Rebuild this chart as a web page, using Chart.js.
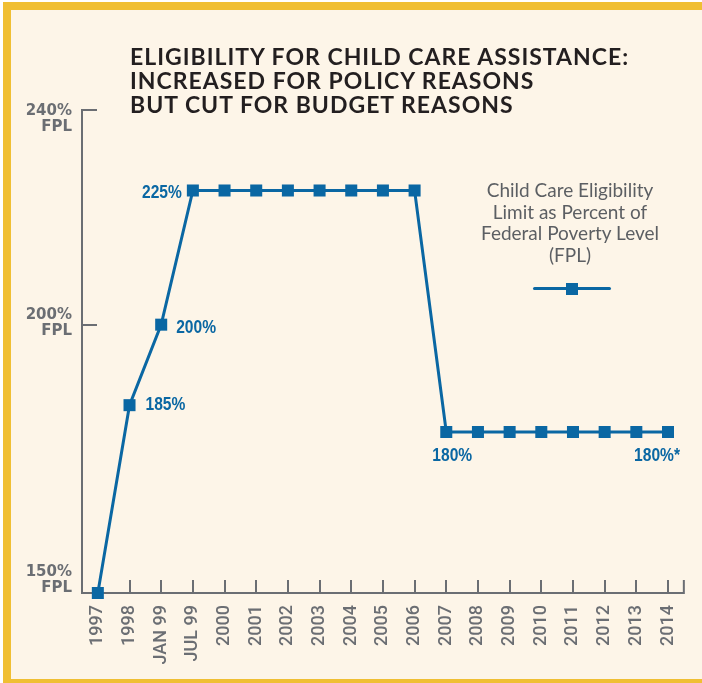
<!DOCTYPE html>
<html>
<head>
<meta charset="utf-8">
<script src="https://cdn.jsdelivr.net/npm/chart.js@4.4.1/dist/chart.umd.min.js"></script>
<style>
  html, body { margin: 0; padding: 0; background: #ffffff; overflow: hidden; }
  #wrap { position: relative; width: 702px; height: 683px; overflow: hidden; background: #fdf5e8; }
  .band { position: absolute; background: #f0bf33; }
  #bandTop { left: 3px; top: 2px; width: 699px; height: 8px; }
  #bandLeft { left: 3px; top: 2px; width: 8px; height: 681px; }
  #bandBottom { left: 3px; top: 679px; width: 699px; height: 4px; }
  #edgeTop { position: absolute; left: 0; top: 0; width: 702px; height: 2px; background: #ffffff; }
  #edgeLeft { position: absolute; left: 0; top: 0; width: 3px; height: 683px; background: #ffffff; }
  #title {
    position: absolute; left: 130px; top: 44px;
    font: 700 23px Lato, sans-serif; line-height: 24px; letter-spacing: 1px;
    color: #231f20; white-space: nowrap;
  }
  #legend {
    position: absolute; left: 470px; width: 200px; top: 179px; text-align: center;
    font: 400 19px Lato, sans-serif; line-height: 21.5px; color: #5c5f63; white-space: nowrap;
  }
  #legendLine {
    position: absolute; left: 533px; top: 287px; width: 78px; height: 3px;
    border-radius: 2px; background: #0a67a3;
  }
  #legendBox {
    position: absolute; left: 566px; top: 283px; width: 12px; height: 12px; background: #0a67a3;
  }
  #chart { position: absolute; left: 0; top: 0; }
</style>
</head>
<body>
<div id="wrap">
  <div id="edgeTop"></div>
  <div id="edgeLeft"></div>
  <div class="band" id="bandTop"></div>
  <div class="band" id="bandLeft"></div>
  <div class="band" id="bandBottom"></div>
  <canvas id="chart" width="702" height="683"></canvas>
  <div id="title">ELIGIBILITY FOR CHILD CARE ASSISTANCE:<br>INCREASED FOR POLICY REASONS<br>BUT CUT FOR BUDGET REASONS</div>
  <div id="legend">Child Care Eligibility<br>Limit as Percent of<br>Federal Poverty Level<br>(FPL)</div>
  <div id="legendLine"></div>
  <div id="legendBox"></div>
</div>
<script>
// data
const categories = ['1997', '1998', 'JAN 99', 'JUL 99', '2000', '2001', '2002', '2003', '2004',
  '2005', '2006', '2007', '2008', '2009', '2010', '2011', '2012', '2013', '2014'];
const eligibility = [150, 185, 200, 225, 225, 225, 225, 225, 225, 225, 225,
  180, 180, 180, 180, 180, 180, 180, 180];
const pointLabels = ['', '185%', '200%', '225%', '', '', '', '', '', '', '',
  '180%', '', '', '', '', '', '', '180%*'];
const yTicks = [150, 200, 240];
const yTickLabels = [['150%', 'FPL'], ['200%', 'FPL'], ['240%', 'FPL']];

const blue = '#0a67a3';
const axisGray = '#6b6e73';

// where each value label sits relative to its point
const labelPlacement = {
  1: {align: 'left', dx: 16, dy: 0},
  2: {align: 'left', dx: 15, dy: 3},
  3: {align: 'right', dx: -11, dy: 2},
  11: {align: 'center', dx: 6, dy: 24},
  18: {align: 'right', dx: 12, dy: 24}
};
// first line of each y label, relative to its tick
const yLabelShift = {150: -21, 200: -10, 240: 1};
const narrow = 0.82; // squeeze for the condensed value labels

const decorations = {
  id: 'decorations',
  beforeDatasetsDraw(chart) {
    const {ctx, chartArea, scales: {x, y}} = chart;
    ctx.save();
    ctx.strokeStyle = axisGray;
    ctx.lineWidth = 2;
    ctx.beginPath();
    for (let i = 1; i < categories.length; i++) {
      const px = Math.round(x.getPixelForValue(i));
      ctx.moveTo(px, chartArea.bottom);
      ctx.lineTo(px, chartArea.bottom - 13);
    }
    ctx.moveTo(chartArea.right, chartArea.bottom + 1);
    ctx.lineTo(chartArea.right, chartArea.bottom - 13);
    yTicks.forEach(v => {
      if (v === y.min) return;
      const py = Math.round(y.getPixelForValue(v));
      ctx.moveTo(chartArea.left - 1, py);
      ctx.lineTo(chartArea.left + 15, py);
    });
    ctx.stroke();

    ctx.fillStyle = axisGray;
    ctx.font = 'bold 15px "DejaVu Sans"';
    ctx.textAlign = 'right';
    ctx.textBaseline = 'middle';
    yTicks.forEach((v, i) => {
      const py = y.getPixelForValue(v) + yLabelShift[v];
      yTickLabels[i].forEach((line, j) => ctx.fillText(line, 72, py + j * 16));
    });
    ctx.restore();
  },
  afterDatasetsDraw(chart) {
    const {ctx} = chart;
    const meta = chart.getDatasetMeta(0);
    ctx.save();
    ctx.fillStyle = blue;
    ctx.font = 'bold 19px "Liberation Sans", Arial, sans-serif';
    ctx.textBaseline = 'middle';
    pointLabels.forEach((txt, i) => {
      if (!txt) return;
      const p = meta.data[i];
      const pl = labelPlacement[i];
      ctx.save();
      ctx.translate(p.x + pl.dx, p.y + pl.dy);
      ctx.scale(narrow, 1);
      ctx.textAlign = pl.align;
      ctx.fillText(txt, 0, 0);
      ctx.restore();
    });
    ctx.restore();
  }
};

new Chart(document.getElementById('chart'), {
  type: 'line',
  data: {
    labels: categories,
    datasets: [{
      label: 'Child Care Eligibility Limit as Percent of Federal Poverty Level (FPL)',
      data: eligibility,
      borderColor: blue,
      backgroundColor: blue,
      borderWidth: 3,
      tension: 0,
      pointStyle: 'rect',
      pointRadius: 8.5,
      pointBorderWidth: 0,
      pointBackgroundColor: blue,
      clip: false
    }]
  },
  options: {
    responsive: false,
    animation: false,
    layout: {padding: {top: 110, right: 15, left: 0, bottom: 0}},
    plugins: {
      legend: {display: false},
      tooltip: {enabled: false}
    },
    scales: {
      x: {
        type: 'category',
        offset: true,
        grid: {display: false, drawTicks: false},
        border: {display: true, color: axisGray, width: 2},
        ticks: {
          autoSkip: false,
          minRotation: 90,
          maxRotation: 90,
          padding: 12,
          color: axisGray,
          font: {family: 'Roboto, sans-serif', size: 18, weight: '500'}
        },
        afterFit(scale) { scale.height = 90; }
      },
      y: {
        min: 150,
        max: 240,
        grid: {display: false, drawTicks: false},
        border: {display: true, color: axisGray, width: 2},
        ticks: {display: false},
        afterFit(scale) { scale.width = 82; }
      }
    }
  },
  plugins: [decorations]
});
</script>
</body>
</html>
